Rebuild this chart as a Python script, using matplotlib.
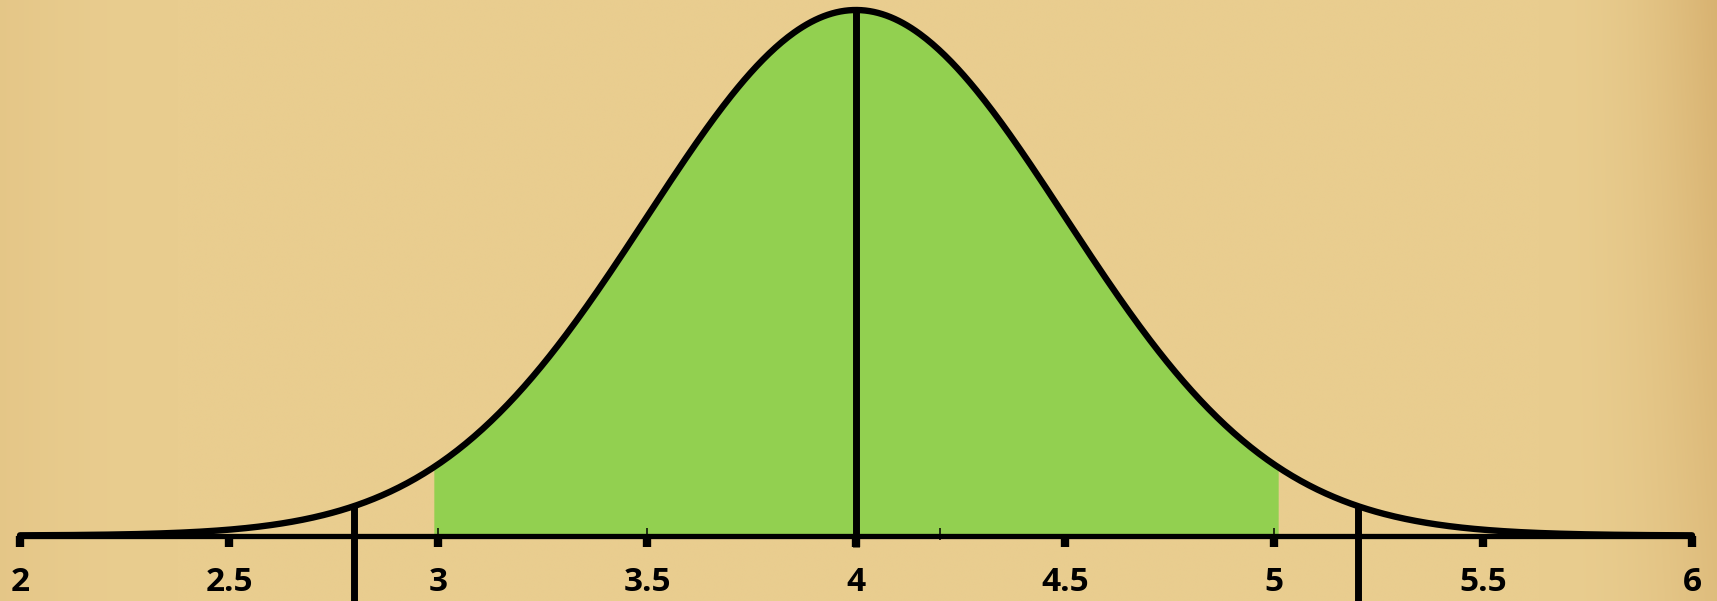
import numpy as np
import matplotlib

matplotlib.use("Agg")
import matplotlib.pyplot as plt

MEAN = 4.0
SD = 0.5
X_MIN, X_MAX = 2.0, 6.0
TICKS = [2, 2.5, 3, 3.5, 4, 4.5, 5, 5.5, 6]
TICK_LABELS = ["2", "2.5", "3", "3.5", "4", "4.5", "5", "5.5", "6"]
SHADE_FROM, SHADE_TO = 2.99, 5.01
CUT_LINES = [2.8, 5.2]
THIN_TICKS = [3, 3.5, 4.2, 5]

W, H, DPI = 1717, 601, 100
PX_PER_X = 418.0
PX_PER_Y = 658.6
AXIS_PX_FROM_BOTTOM = 65.5

GREEN = "#92D050"
INK = "#000000"


def pdf(x):
    return np.exp(-0.5 * ((x - MEAN) / SD) ** 2) / (SD * np.sqrt(2 * np.pi))


def px_y(p):
    return p / PX_PER_Y


fig = plt.figure(figsize=(W / DPI, H / DPI), dpi=DPI)
ax = fig.add_axes([0, 0, 1, 1])
ax.axis("off")

x_lo = X_MIN - 20 / PX_PER_X
x_hi = x_lo + W / PX_PER_X
y_lo = -AXIS_PX_FROM_BOTTOM / PX_PER_Y
y_hi = y_lo + H / PX_PER_Y
ax.set_xlim(x_lo, x_hi)
ax.set_ylim(y_lo, y_hi)

# parchment-coloured backdrop with a soft darker rim
gx, gy = np.meshgrid(np.linspace(0, 1, 400), np.linspace(0, 1, 140))
rim = 0.8 * np.clip((gx - 0.9) / 0.1, 0, 1) ** 2 * (0.6 + 0.4 * gy)
rim += 0.2 * np.clip((0.1 - gx) / 0.1, 0, 1) ** 2
base = np.array([233, 205, 143]) / 255
edge = np.array([212, 172, 106]) / 255
bg = base[None, None, :] * (1 - rim[..., None]) + edge[None, None, :] * rim[..., None]
ax.imshow(bg, extent=[x_lo, x_hi, y_lo, y_hi], origin="lower", aspect="auto",
          interpolation="bicubic", zorder=0)

xs = np.linspace(X_MIN, X_MAX, 800)
xf = np.linspace(SHADE_FROM, SHADE_TO, 400)
ax.fill_between(xf, 0, pdf(xf), color=GREEN, linewidth=0, zorder=1)

# x axis with square ticks hanging below
ax.plot([X_MIN, X_MAX], [0, 0], color=INK, lw=3.8, solid_capstyle="butt", zorder=3)
ax.vlines(TICKS, px_y(-11), 0, color=INK, lw=6.0, capstyle="butt", zorder=3)
ax.vlines(THIN_TICKS, px_y(-4.5), px_y(7.5), color=INK, lw=1.1, zorder=3)

ax.plot(xs, pdf(xs), color=INK, lw=4.6, solid_capstyle="round", zorder=4)

ax.vlines([MEAN], px_y(-11), pdf(MEAN), color=INK, lw=5.0, capstyle="butt", zorder=5)
ax.vlines(CUT_LINES, y_lo, pdf(np.array(CUT_LINES)), color=INK, lw=5.0,
          capstyle="butt", zorder=5)

for t, lab in zip(TICKS, TICK_LABELS):
    ax.text(t, px_y(-47), lab, ha="center", va="center", fontsize=24,
            fontweight="bold", family="Open Sans", color=INK, zorder=6)

fig.savefig("out.png", dpi=DPI)
